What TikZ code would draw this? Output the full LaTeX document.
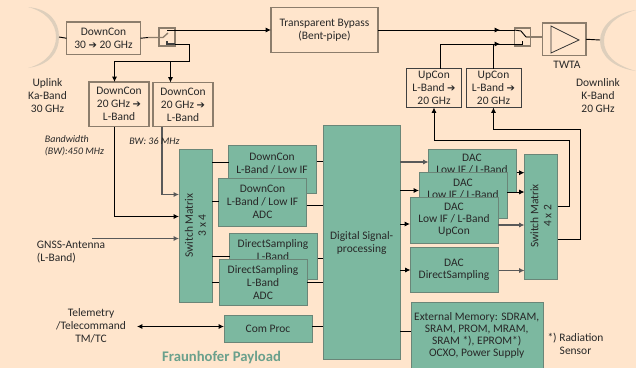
\documentclass[tikz,border=0pt]{standalone}
\usepackage{fontspec}
\setmainfont{Carlito}
\usetikzlibrary{arrows.meta}
\definecolor{bgc}{RGB}{255,229,204}
\definecolor{grn}{RGB}{124,184,160}
\definecolor{grnb}{RGB}{106,134,120}
\definecolor{bro}{RGB}{140,125,108}
\definecolor{txt}{RGB}{40,40,40}
\definecolor{dish}{RGB}{222,207,188}
\definecolor{tgrn}{RGB}{106,160,140}
\newfontfamily\symf{DejaVu Sans}
\newcommand{\arr}{{\symf\fontsize{7.5pt}{7.5pt}\selectfont ➔}}
\newcommand{\bx}[7]{%
 \pgfmathsetmacro{\cxx}{(#3+#5)/2}\pgfmathsetmacro{\cyy}{(#4+#6)/2}%
 \pgfmathsetmacro{\wxx}{(#5-#3)*0.75}\pgfmathsetmacro{\hyy}{(#6-#4)*0.75}%
 \node[#2,minimum width=\wxx pt,minimum height=\hyy pt] (#1) at (\cxx,\cyy) {#7};}
\tikzset{
 x=0.75pt,y=-0.75pt,
 every node/.style={font=\fontsize{8.6pt}{9.75pt}\selectfont,text=txt,align=center,inner sep=0pt,outer sep=0pt},
 pale/.style={draw=bro,line width=0.85pt,fill=bgc},
 thin box/.style={draw=black!75,line width=0.6pt,fill=bgc},
 green/.style={draw=grnb,line width=0.7pt,fill=grn},
 wire/.style={draw=black,line width=0.7pt},
 ar/.style={wire,-{Latex[length=4pt,width=3.8pt]}},
 grey/.style={draw=black!65,line width=0.95pt,-{Latex[length=4pt,width=3.8pt]}},
 tight/.style={font=\fontsize{8.6pt}{9pt}\selectfont},
 note/.style={font=\itshape\fontsize{7.5pt}{9.2pt}\selectfont,align=left},
}
\begin{document}
\begin{tikzpicture}
\useasboundingbox (0,0) rectangle (636,368);
\fill[bgc] (0,0) rectangle (636,368);
% dishes
\fill[dish] (28,7) .. controls (50,9) and (59,22) .. (59,37) .. controls (59,52) and (50,65) .. (28,68) .. controls (47,63) and (56,50) .. (56,37) .. controls (56,24) and (47,12) .. (28,7) -- cycle;
\fill[dish] (636,10) .. controls (614,13) and (600,26) .. (600,41) .. controls (600,56) and (614,68) .. (636,71) .. controls (614,65) and (604,54) .. (604,41) .. controls (604,28) and (614,16) .. (636,10) -- cycle;
\coordinate (dl) at (59,37);
\coordinate (dr) at (600,40);
% top row
\bx{dc1}{pale}{66.5}{22}{140.5}{54.5}{DownCon\\30 \arr\ 20 GHz}
\bx{tb}{pale}{271}{7.5}{378}{52.5}{Transparent Bypass\\(Bent-pipe)}
\bx{sl}{pale}{159}{28}{175}{46}{}
\bx{dc2}{pale}{89}{82}{149}{126.5}{DownCon\\20 GHz \arr\\L-Band}
\bx{dc3}{pale}{153}{82.5}{213}{126.5}{DownCon\\20 GHz \arr\\L-Band}
\bx{uc1}{thin box}{406.5}{68.5}{461.5}{107.5}{UpCon\\L-Band \arr\\20 GHz}
\bx{uc2}{thin box}{466}{68.5}{521}{107.5}{UpCon\\L-Band \arr\\20 GHz}
\bx{sr}{pale}{514.5}{28}{530.5}{46}{}
\bx{tw}{pale}{542.5}{23}{586}{55.5}{}
\draw[wire] (dl) -- (dc1.west);
\draw[wire] (tw.east) -- (dr);
% green boxes
\bx{sm}{green}{179}{149}{212}{302}{}
\node[rotate=90] (smt) at (195.5,225.5) {Switch Matrix\\3 x 4};
\bx{a1}{green}{228.5}{145}{316.5}{193}{}
\node (a1t) at (272,163.2) {DownCon\\L-Band / Low IF};
\bx{a2}{green}{218.5}{178}{306.5}{226.5}{DownCon\\L-Band / Low IF\\ADC}
\bx{a3}{green}{229.5}{233.5}{317.5}{279.5}{}
\node (a3t) at (273,250) {DirectSampling\\L-Band};
\bx{a4}{green}{219}{259.5}{307}{305.5}{}
\node (a4t) at (263,282.7) {DirectSampling\\L-Band\\ADC};
\bx{cp}{green}{224}{315.5}{312}{342.5}{Com Proc}
\bx{dsp}{green}{323}{125.5}{400}{359.5}{}
\node (dspt) at (361.7,243.2) {Digital Signal-\\processing};
\bx{d1}{green}{428.5}{149.5}{516.5}{192.5}{}
\node[tight] (d1t) at (472,164.5) {DAC\\Low IF / L-Band};
\bx{d2}{green}{419}{172.5}{507}{218.5}{}
\node[tight] (d2t) at (463,189.5) {DAC\\Low IF / L-Band};
\bx{d3}{green}{410}{197.5}{498}{243}{}
\node[tight] (d3t) at (454,219.7) {DAC\\Low IF / L-Band\\UpCon};
\bx{d4}{green}{410.5}{247.5}{498.5}{292.5}{}
\node[tight] (d4t) at (454,269.5) {DAC\\DirectSampling};
\bx{sn}{green}{524.5}{154}{557.5}{279.5}{}
\node[rotate=90] (snt) at (541,216) {Switch Matrix\\4 x 2};
\bx{em}{green}{411}{302}{543}{370}{}
\node[tight] (emt) at (476.7,335.2) {External Memory: SDRAM,\\SRAM, PROM, MRAM,\\SRAM *), EPROM*)\\OCXO, Power Supply};
% triangle
\draw[draw=black!80,line width=0.6pt] (551,26) -- (579,40) -- (551,53) -- cycle;
% top wires
\draw[wire] (dc1.east) -- (148,37.5);
\draw[draw=bro,line width=1pt] (148,37.5) -- (163,37.5) -- (168,33);
\draw[wire] (167,30) -- (189,30);
\draw[draw=black!75,line width=0.8pt] (167,41) -- (167,44) -- (175,44);
\draw[ar] (167,30) -- (tb.west |- 0,30);
\draw[wire] (175,44) -- (189.5,44) -- (189.5,61) -- (114.5,61);
\draw[ar] (114.5,61) -- (114.5,82);
\draw[ar] (170.5,61) -- (170.5,82.5);
\draw[wire] (tb.east |- 0,30) -- (sr.west |- 0,30);
\draw[ar] (490,30) -- (500,30);
\draw[wire] (500,30) -- (514.5,30);
\draw[wire] (440.5,68.5) -- (440.5,44) -- (514.5,44);
\draw[wire] (493.5,68.5) -- (493.5,44);
\draw[ar] (493.5,44) -- (500,44);
\draw[draw=bro,line width=1pt] (526,37) -- (542.5,37);
\draw[wire] (526,37) -- (521,31) -- (514.5,30);
\draw[wire] (522,41) -- (522,44) -- (514.5,44);
% into switch matrix
\draw[ar] (114.5,126.5) -- (114.5,216.5) -- (179,216.5);
\draw[grey] (162,126.5) -- (162,194.5) -- (179,194.5);
\draw[grey] (92,238.5) -- (179,238.5);
% switch matrix to converters
\draw[wire] (212,162) -- (228.5,162);
\draw[wire] (212,201) -- (218.5,201);
\draw[wire] (212,256) -- (229.5,256);
\draw[wire] (212,282) -- (219,282);
\draw[wire] (316.5,161.5) -- (323,161.5);
\draw[wire] (306.5,205.5) -- (323,205.5);
\draw[wire] (317.5,258.5) -- (323,258.5);
\draw[wire] (307,282.5) -- (323,282.5);
\draw[wire] (312,326.5) -- (323,326.5);
\draw[{Latex[length=4pt,width=3.8pt]}-{Latex[length=4pt,width=3.8pt]},wire] (137,326.5) -- (cp.west |- 0,326.5);
% DSP out
\draw[grey] (400,162) -- (428.5,162);
\draw[ar] (400,190.5) -- (419,190.5);
\draw[ar] (400,224) -- (410,224);
\draw[ar] (400,270) -- (410.5,270);
\draw[wire] (400,331) -- (411,331);
\draw[ar] (516.5,172.7) -- (524.5,172.7);
\draw[ar] (507,192) -- (524.5,192);
\draw[grey] (498,225) -- (524.5,225);
\draw[grey] (498.5,270.5) -- (524.5,270.5);
% switch 4x2 out
\draw[wire] (557.5,206.5) -- (569.5,206.5) -- (569.5,140) -- (434,140);
\draw[ar] (434,140) -- (434,107.5);
\draw[wire] (557.5,239) -- (580.5,239) -- (580.5,129.5) -- (493.5,129.5);
\draw[ar] (493.5,129.5) -- (493.5,107.5);
% labels
\node at (47.5,96) {Uplink\\Ka-Band\\30 GHz};
\node[note] at (74.5,146) {Bandwidth\\(BW):450 MHz};
\node[note] at (154.5,141) {BW: 36 MHz};
\node[align=left] at (71,252) {GNSS-Antenna\\(L-Band)};
\node at (91,326) {Telemetry\\/Telecommand\\TM/TC};
\node[font=\bfseries\fontsize{11pt}{12pt}\selectfont,text=tgrn] at (221.5,357.5) {Fraunhofer Payload};
\node at (567,64.5) {TWTA};
\node at (598,95.5) {Downlink\\K-Band\\20 GHz};
\node at (575.5,344) {*) Radiation\\Sensor};
\end{tikzpicture}
\end{document}
